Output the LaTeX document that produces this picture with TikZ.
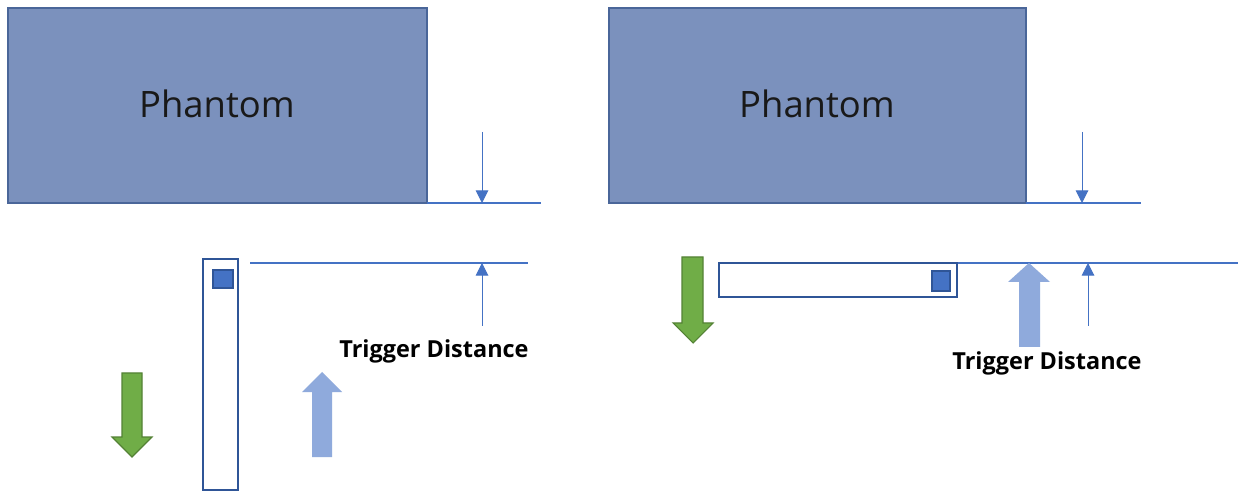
\documentclass[tikz,border=0pt]{standalone}
\usepackage{fontspec}
\setmainfont{Open Sans}
\usetikzlibrary{arrows.meta}
\definecolor{phfill}{HTML}{7B91BD}
\definecolor{phdraw}{HTML}{4A6699}
\definecolor{lineblue}{HTML}{4472C4}
\definecolor{sensdraw}{HTML}{2F5597}
\definecolor{lightblue}{HTML}{8FAADC}
\definecolor{gfill}{HTML}{70AD47}
\definecolor{gdraw}{HTML}{548235}
\tikzset{
  phantom/.style={draw=phdraw, fill=phfill, line width=1pt},
  refline/.style={draw=lineblue, line width=0.9pt},
  dimarrow/.style={draw=lineblue, line width=0.75pt, -{Triangle[width=9.5pt,length=9.5pt]}},
  sensor/.style={draw=sensdraw, line width=1.2pt, fill=white},
  chip/.style={draw=sensdraw, fill=lineblue, line width=0.8pt},
  bigup/.style={fill=lightblue, draw=none},
  greendown/.style={fill=gfill, draw=gdraw, line width=0.8pt},
  lbl/.style={font=\fontsize{27.3}{31}\selectfont, text=black!90, inner sep=0pt},
  tlbl/.style={font=\bfseries\fontsize{17.6}{20}\selectfont, text=black, inner sep=0pt}
}
\begin{document}
\begin{tikzpicture}[x=0.75pt,y=-0.75pt]
\useasboundingbox[fill=white] (0,0) rectangle (1238,491);
% ---------- left panel ----------
\path[phantom] (8,8) rectangle (427,203);
\node[lbl] (phL) at (217,104) {Phantom};
\coordinate (bL1) at (427,203); \coordinate (bL2) at (541,203);
\draw[refline] (bL1) -- (bL2);
\coordinate (dL1) at (482,132); \coordinate (dL2) at (482,203);
\draw[dimarrow] (dL1) -- (dL2);
\path[sensor] (203,259) rectangle (238,490);
\path[chip] (213,270) rectangle (233,288);
\coordinate (tL1) at (250,263); \coordinate (tL2) at (528,263);
\draw[refline] (tL1) -- (tL2);
\coordinate (uL1) at (482,326); \coordinate (uL2) at (482,263);
\draw[dimarrow] (uL1) -- (uL2);
\node[tlbl] (trigL) at (434,351) {Trigger Distance};
\path[bigup] (312,457) -- (312,392) -- (302,392) -- (322,372) -- (342,392) -- (332,392) -- (332,457) -- cycle;
\path[greendown] (122,373) -- (142,373) -- (142,437) -- (152,437) -- (132,457) -- (112,437) -- (122,437) -- cycle;
% ---------- right panel ----------
\path[phantom] (609,8) rectangle (1026,203);
\node[lbl] (phR) at (817,104) {Phantom};
\coordinate (bR1) at (1026,203); \coordinate (bR2) at (1141,203);
\draw[refline] (bR1) -- (bR2);
\coordinate (dR1) at (1082,132); \coordinate (dR2) at (1082,203);
\draw[dimarrow] (dR1) -- (dR2);
\path[sensor] (719,263) rectangle (957,297);
\path[chip] (932,271) rectangle (950,291);
\coordinate (tR1) at (958,263); \coordinate (tR2) at (1238,263);
\draw[refline] (tR1) -- (tR2);
\coordinate (uR1) at (1088,326); \coordinate (uR2) at (1088,263);
\draw[dimarrow] (uR1) -- (uR2);
\node[tlbl] (trigR) at (1047,363) {Trigger Distance};
\path[bigup] (1019,347) -- (1019,282) -- (1008,282) -- (1029,263) -- (1050,282) -- (1040,282) -- (1040,347) -- cycle;
\path[greendown] (682,257) -- (703,257) -- (703,323) -- (713,323) -- (693,343) -- (673,323) -- (682,323) -- cycle;
\end{tikzpicture}
\end{document}
